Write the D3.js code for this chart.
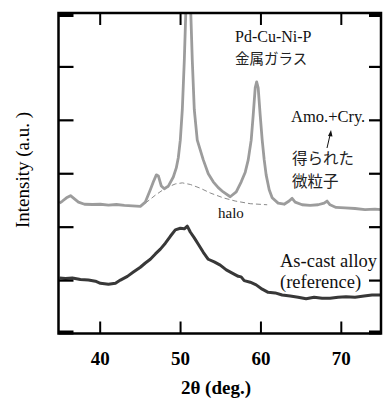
<!DOCTYPE html>
<html><head><meta charset="utf-8">
<script src="https://cdn.jsdelivr.net/npm/d3@7"></script>
<style>
html,body{margin:0;padding:0;background:#fff;}
svg{display:block;}
</style></head>
<body>
<script>
// 2θ (deg.) and intensity (a.u.)
const crystTheta = [35.0,35.37,35.87,36.37,36.86,37.36,38.11,39.1,40.09,41.09,42.08,43.07,44.07,45.06,45.68,46.3,46.68,47.05,47.3,47.67,48.04,48.54,49.16,49.53,49.78,50.03,50.28,50.53,51.02,51.52,51.77,52.14,52.89,53.51,54.13,54.75,55.37,56.24,56.99,57.61,58.11,58.48,58.85,59.1,59.35,59.53,59.72,59.97,60.22,60.47,60.71,61.09,61.46,62.2,62.95,63.57,63.94,64.32,65.19,66.18,67.17,67.92,68.29,68.66,69.41,70.53,71.77,73.01,74.25,75.0];
const crystInt   = [2.44,2.48,2.54,2.58,2.52,2.46,2.42,2.415,2.42,2.405,2.415,2.40,2.39,2.38,2.46,2.69,2.84,2.97,2.95,2.76,2.71,2.76,2.93,3.10,3.29,3.62,4.19,5.12,7.5,5.12,4.19,3.62,3.25,2.99,2.84,2.73,2.65,2.56,2.65,2.84,3.02,3.25,3.62,4.09,4.60,4.71,4.60,4.09,3.62,3.25,2.97,2.69,2.54,2.44,2.42,2.48,2.53,2.46,2.41,2.40,2.41,2.44,2.48,2.41,2.36,2.35,2.34,2.32,2.33,2.32];

const haloTheta = [45.68,46.93,48.17,49.41,50.28,51.27,52.52,53.76,55.37,56.86,58.73,60.84];
const haloInt   = [2.44,2.59,2.72,2.80,2.82,2.79,2.72,2.63,2.54,2.48,2.43,2.41];

const castTheta = [35.0,35.75,36.6,37.6,38.6,39.47,40.09,41.09,41.96,42.58,43.45,44.19,45.06,45.68,46.3,46.93,47.55,48.17,48.79,49.41,50.03,50.53,50.9,51.27,51.77,52.27,52.89,53.51,54.25,55.0,55.75,56.49,57.24,57.6,57.98,58.73,59.47,60.22,60.96,61.83,62.7,63.7,64.69,65.68,66.68,67.67,68.66,69.66,70.65,71.77,72.89,73.88,75.0];
const castInt   = [1.04,1.03,1.04,1.01,1.00,0.98,0.94,0.92,0.94,1.00,1.07,1.15,1.24,1.32,1.39,1.49,1.58,1.69,1.82,1.94,1.97,1.96,2.01,1.90,1.79,1.67,1.52,1.39,1.34,1.28,1.19,1.13,1.07,1.06,0.99,0.96,0.91,0.83,0.77,0.76,0.72,0.70,0.68,0.65,0.68,0.66,0.66,0.68,0.69,0.68,0.70,0.72,0.72];

const xTicks = [40,50,60,70];
const yTicks = [0,1,2,3,4,5,6];

const W = 383, H = 399;
const L = 58.5, R = 381, T = 13, B = 333.5;

const svg = d3.select("body").append("svg").attr("width", W).attr("height", H);

const x = d3.scaleLinear().domain([35,75]).range([59.5, R]);
const y = d3.scaleLinear().domain([0,6]).range([B, T]);

svg.append("defs").append("clipPath").attr("id","clip")
  .append("rect").attr("x", L).attr("y", T).attr("width", R - L).attr("height", B - T);

const line = d3.line().x(d => x(d[0])).y(d => y(d[1]));
const g = svg.append("g").attr("clip-path","url(#clip)");

g.append("path").datum(haloTheta.map((t,i)=>[t,haloInt[i]]))
  .attr("d", line).attr("fill","none").attr("stroke","#8a8a8a")
  .attr("stroke-width",1).attr("stroke-dasharray","5,3");

g.append("path").datum(crystTheta.map((t,i)=>[t,crystInt[i]]))
  .attr("d", line).attr("fill","none").attr("stroke","#9c9c9c")
  .attr("stroke-width",2.8).attr("stroke-linejoin","round");

g.append("path").datum(castTheta.map((t,i)=>[t,castInt[i]]))
  .attr("d", line).attr("fill","none").attr("stroke","#383838")
  .attr("stroke-width",3).attr("stroke-linejoin","round");

// axes
function styleAxis(sel, w){
  sel.select(".domain").remove();
  sel.selectAll(".tick line").attr("stroke","#000").attr("stroke-width", w);
}
const ax = svg.append("g").attr("transform",`translate(0,${B})`)
  .call(d3.axisBottom(x).tickValues(xTicks).tickSize(-12).tickPadding(18).tickFormat(d3.format("d")));
styleAxis(ax, 2);
ax.selectAll("text").attr("font-family","'Liberation Serif', serif").attr("font-weight","bold")
  .attr("font-size",19).attr("fill","#000");

const axt = svg.append("g").attr("transform",`translate(0,${T})`)
  .call(d3.axisTop(x).tickValues(xTicks).tickSize(-12).tickFormat(""));
styleAxis(axt, 2);

const ayl = svg.append("g").attr("transform",`translate(${L},0)`)
  .call(d3.axisLeft(y).tickValues(yTicks).tickSize(-15).tickFormat(""));
styleAxis(ayl, 2.2);
// thicker end ticks at corners, sitting just inside the frame
ayl.selectAll(".tick").filter(d => d === 0 || d === 6).select("line")
  .attr("stroke-width", 4)
  .attr("transform", d => `translate(0,${d === 0 ? -1.5 : 1.5})`);

const ayr = svg.append("g").attr("transform",`translate(${R},0)`)
  .call(d3.axisRight(y).tickValues(yTicks).tickSize(-12).tickFormat(""));
styleAxis(ayr, 2.2);
ayr.selectAll(".tick").filter(d => d === 0 || d === 6).select("line")
  .attr("stroke-width", 4)
  .attr("transform", d => `translate(0,${d === 0 ? -1.5 : 1.5})`);

// frame
svg.append("rect").attr("x", L).attr("y", T).attr("width", R - L).attr("height", B - T)
  .attr("fill","none").attr("stroke","#000").attr("stroke-width",2.5);

// titles
svg.append("text").attr("x", 216).attr("y", 394).attr("text-anchor","middle")
  .attr("font-family","'Liberation Serif', serif").attr("font-weight","bold").attr("font-size",19)
  .text("2θ (deg.)");
svg.append("text").attr("transform","translate(29,170) rotate(-90)").attr("text-anchor","middle")
  .attr("font-family","'Liberation Serif', serif").attr("font-size",19)
  .text("Intensity (a.u. )");

// annotations
const serif = "'Liberation Serif', serif";
const cjk = "'Noto Sans CJK JP', sans-serif";
function txt(s, xx, yy, size, fam, col){
  svg.append("text").attr("x",xx).attr("y",yy).attr("font-family",fam)
    .attr("font-size",size).attr("fill",col||"#111").text(s);
}
txt("Pd-Cu-Ni-P", 235, 42, 16, serif);
txt("金属ガラス", 235, 64, 14.5, cjk, "#222");
txt("Amo.+Cry.", 291, 122, 16.5, serif);
txt("得られた", 292, 164, 15.5, cjk, "#222");
txt("微粒子", 292, 187, 15.5, cjk, "#222");
txt("halo", 218, 218, 15, serif);
txt("As-cast alloy", 280, 267, 18.5, serif);
txt("(reference)", 280, 288, 18.5, serif);

// arrow
svg.append("line").attr("x1",327).attr("y1",148).attr("x2",330.5).attr("y2",133)
  .attr("stroke","#111").attr("stroke-width",1);
svg.append("path").attr("d","M331,130 L328,136 L332.5,136.5 Z").attr("fill","#111");
</script>
</body></html>
